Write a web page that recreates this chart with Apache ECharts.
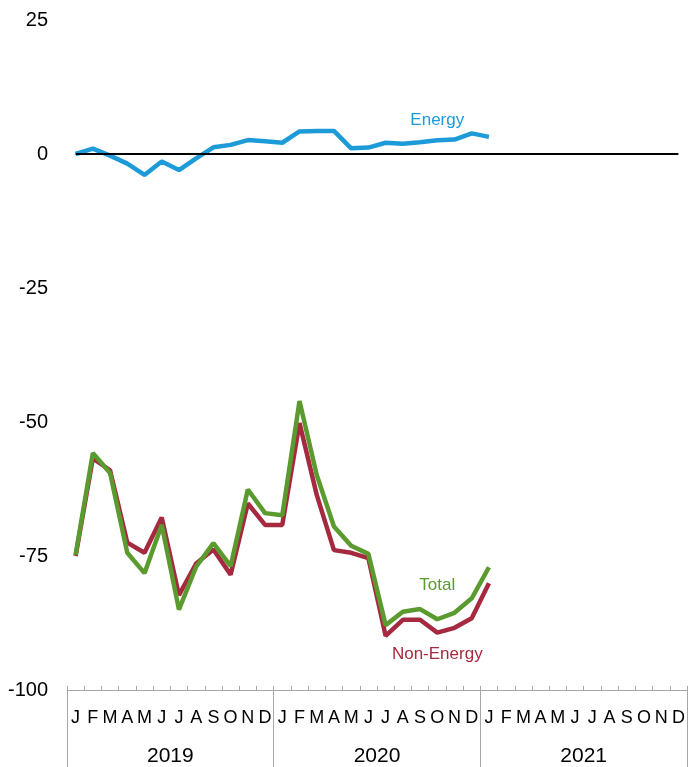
<!DOCTYPE html>
<html>
<head>
<meta charset="utf-8">
<script src="https://cdn.jsdelivr.net/npm/echarts@6/dist/echarts.min.js"></script>
<style>
html,body{margin:0;padding:0;background:#fff;}
#chart{width:696px;height:767px;}
</style>
</head>
<body>
<div id="chart"></div>
<script>
var months = ['J','F','M','A','M','J','J','A','S','O','N','D',
              'J','F','M','A','M','J','J','A','S','O','N','D',
              'J','F','M','A','M','J','J','A','S','O','N','D'];
var years = ['2019','2020','2021'];
var yTicks = [-100, -75, -50, -25, 0, 25];

var energy = [0.0, 1.0, -0.3, -1.8, -3.9, -1.4, -3.0, -0.8, 1.25, 1.7, 2.6, 2.4, 2.1,
              4.2, 4.3, 4.3, 1.05, 1.2, 2.1, 1.9, 2.2, 2.55, 2.7, 3.85, 3.2];
var total = [-74.8, -55.8, -59.5, -74.4, -78.2, -69.2, -85.0, -77.0, -72.6, -76.9, -62.6, -67.0, -67.4,
             -46.1, -59.9, -69.5, -73.1, -74.6, -87.9, -85.4, -84.9, -86.8, -85.6, -82.9, -77.1];
var nonEnergy = [-75.0, -56.8, -59.0, -72.5, -74.4, -67.8, -82.3, -76.4, -73.8, -78.5, -65.2, -69.2, -69.2,
                 -50.2, -63.6, -73.9, -74.4, -75.4, -89.9, -86.9, -86.9, -89.3, -88.4, -86.6, -80.1];

var FONT = "'Liberation Sans Narrow', 'Liberation Sans', Arial, sans-serif";
var cBlue = '#1C9BD8', cGreen = '#5B9A2E', cRed = '#A52A40', cGray = '#A6A6A6';

var chart = echarts.init(document.getElementById('chart'));
chart.setOption({
  animation: false,
  backgroundColor: '#fff',
  textStyle: {fontFamily: FONT},
  grid: {left: 67, right: 9, top: 20, bottom: 77, containLabel: false},
  xAxis: [
    {
      type: 'category', data: months, boundaryGap: true, position: 'bottom',
      axisLine: {show: true, onZero: false, lineStyle: {color: cGray, width: 1}},
      axisTick: {show: true, inside: true, length: 4, interval: 0, lineStyle: {color: cGray}},
      axisLabel: {interval: 0, margin: 19, fontSize: 18, color: '#000', fontFamily: FONT},
      splitLine: {show: false}
    },
    {
      type: 'category', data: years, boundaryGap: true, position: 'bottom',
      axisLine: {show: false, onZero: false},
      axisTick: {show: true, inside: false, length: 80, interval: 0, lineStyle: {color: cGray}},
      axisLabel: {interval: 0, margin: 56, fontSize: 21, color: '#000', fontFamily: FONT},
      splitLine: {show: false}
    }
  ],
  yAxis: {
    type: 'value', min: yTicks[0], max: yTicks[yTicks.length - 1], interval: 25,
    axisLine: {show: false}, axisTick: {show: false}, splitLine: {show: false},
    axisLabel: {margin: 19, fontSize: 20, color: '#000', fontFamily: FONT}
  },
  series: [
    {
      type: 'line', data: [], silent: true,
      markLine: {
        silent: true, symbol: ['none', 'none'], label: {show: false},
        lineStyle: {color: '#000', width: 2, type: 'solid'},
        data: [[{coord: [0, 0]}, {coord: [35, 0]}]]
      }
    },
    {name: 'Non-Energy', type: 'line', data: nonEnergy, symbol: 'none',
     lineStyle: {color: cRed, width: 4.5}, itemStyle: {color: cRed}},
    {name: 'Total', type: 'line', data: total, symbol: 'none',
     lineStyle: {color: cGreen, width: 4.5}, itemStyle: {color: cGreen}},
    {name: 'Energy', type: 'line', data: energy, symbol: 'none',
     lineStyle: {color: cBlue, width: 4.5}, itemStyle: {color: cBlue}}
  ]
});

function lbl(text, idx, val, color) {
  var p = chart.convertToPixel({gridIndex: 0}, [idx, val]);
  return {type: 'text', x: p[0], y: p[1],
    style: {text: text, fill: color, font: '17px ' + FONT, textAlign: 'center', textVerticalAlign: 'middle'}};
}
chart.setOption({graphic: [
  lbl('Energy', 20.6, 6.2, cBlue),
  lbl('Total', 21.3, -80.4, cGreen),
  lbl('Non-Energy', 21.2, -93.3, cRed)
]});
</script>
</body>
</html>
